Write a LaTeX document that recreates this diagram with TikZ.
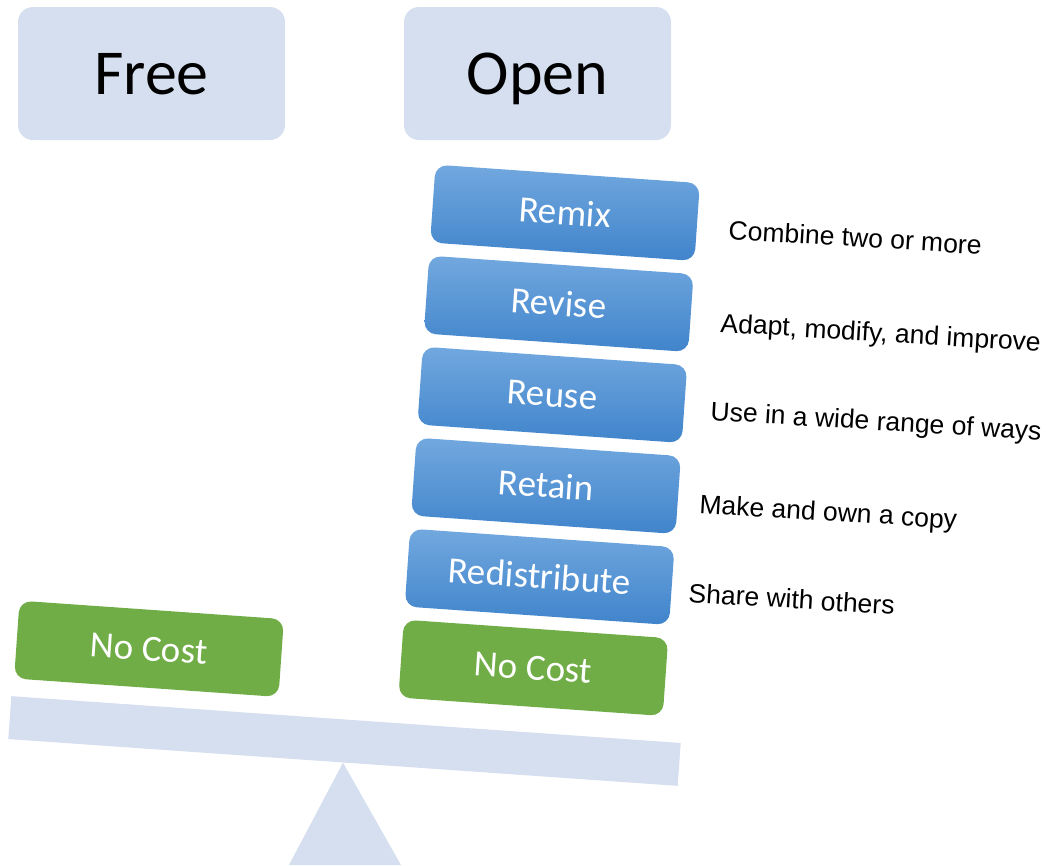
\documentclass[tikz,border=0pt]{standalone}
\usepackage{fontspec}
\setmainfont{Carlito}
\newfontfamily\notefont{Liberation Sans}
\usetikzlibrary{positioning}
\definecolor{headfill}{HTML}{D5DFEF}
\definecolor{costgreen}{HTML}{70AD47}
\definecolor{rtop}{HTML}{72A8DF}
\definecolor{rbottom}{HTML}{4084CB}

\begin{document}
\begin{tikzpicture}[x=1pt,y=-1pt,
	head/.style={fill=headfill,rounded corners=15pt,minimum width=267pt,minimum height=133pt,inner sep=0pt,
		font=\fontsize{64}{64}\selectfont,text height=41.2pt,text depth=0pt},
	card/.style={rotate=-4,rounded corners=12pt,minimum width=265pt,minimum height=78pt,inner sep=0pt,
		text=white,font=\fontsize{37}{37}\selectfont,text height=23.8pt,text depth=0pt},
	rbox/.style={card,top color=rtop,bottom color=rbottom},
	cost/.style={card,fill=costgreen},
	note/.style={anchor=base west,rotate=-3.5,inner sep=0pt,font=\notefont\fontsize{26.5}{26.5}\selectfont}]
	\useasboundingbox (0,0) rectangle (1049,865);
	%% headers
	\node[head] (free) at (151.5,73.5) {Free};
	\node[head] (open) at (537.5,73.5) {Open};
	%% scale: stand and beam
	\coordinate (standL) at (289,865);
	\coordinate (standR) at (401,865);
	\node[rotate=-4,fill=headfill,minimum width=671pt,minimum height=43pt,inner sep=0pt] (beam) at (344.5,741) {};
	\fill[headfill] (beam.south) -- (standL) -- (standR) -- cycle;
	%% free side
	\node[cost] (costL) at (149,648.8) {No Cost};
	%% open side, stacked bottom to top
	\node[cost] (costR) at (533.3,667.8) {No Cost};
	\node[rbox] (redist) at (539.6,576.8) {Redistribute};
	\node[rbox] (retain) at (546,485.8) {Retain};
	\node[rbox] (reuse) at (552.3,394.8) {Reuse};
	\node[rbox] (revise) at (558.7,303.8) {Revise};
	\node[rbox] (remix) at (565,212.8) {Remix};
	% notes beside the stack
	\node[note] (nremix) at (728,239) {Combine two or more};
	\node[note] (nrevise) at (720,332) {Adapt, modify, and improve};
	\node[note] (nreuse) at (710,420) {Use in a wide range of ways};
	\node[note] (nretain) at (699,513) {Make and own a copy};
	\node[note] (nredist) at (688,602) {Share with others};
\end{tikzpicture}
\end{document}
